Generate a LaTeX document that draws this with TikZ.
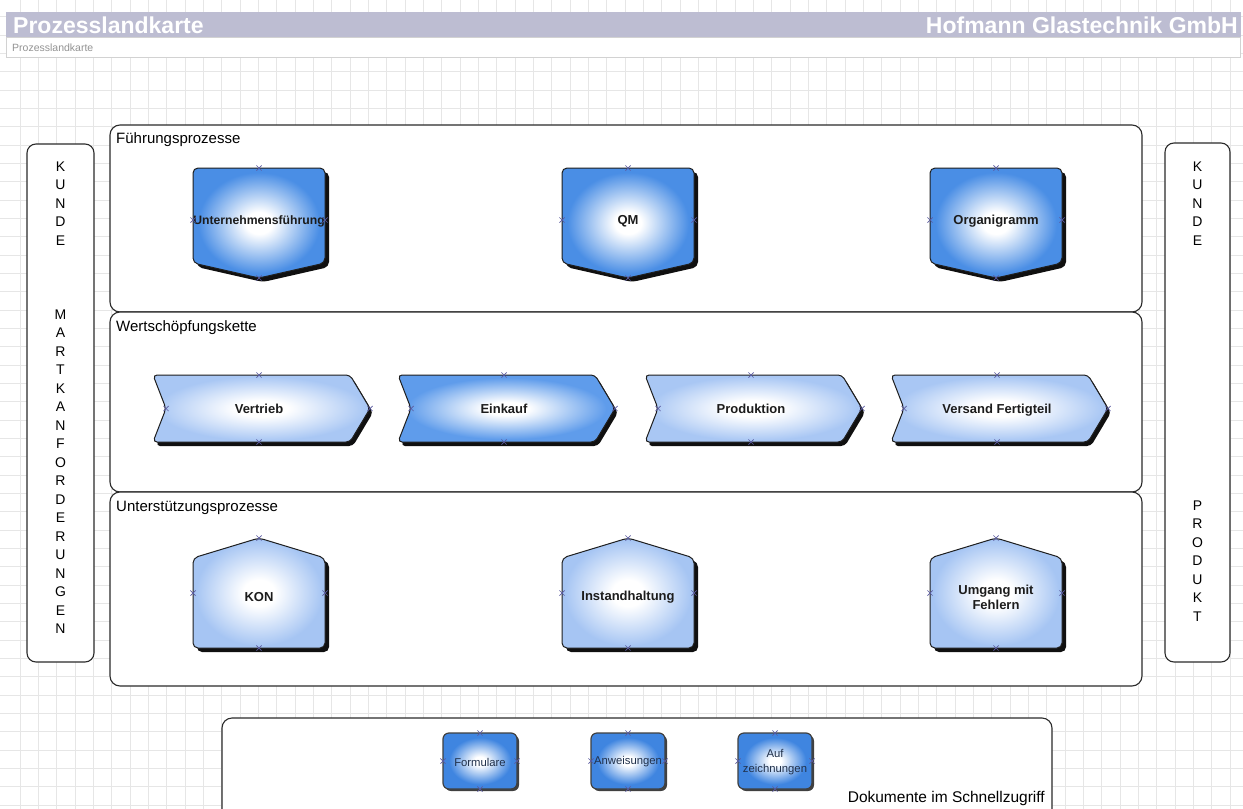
\documentclass[tikz,border=0pt]{standalone}
\usepackage{fontspec}
\setmainfont{Liberation Sans}
\usetikzlibrary{shapes.misc}
\definecolor{lanec}{HTML}{2B2B2B}
\definecolor{outl}{HTML}{1E1E1E}
\definecolor{shadowc}{HTML}{101010}
\definecolor{topblue}{HTML}{4A8EE5}
\definecolor{chevlight}{HTML}{A9C7F4}
\definecolor{chevdark}{HTML}{5F9CEB}
\definecolor{botlight}{HTML}{A6C5F3}
\definecolor{docblue}{HTML}{3F85E0}
\definecolor{xc}{HTML}{5A5AA0}
\definecolor{bandc}{HTML}{BDBDD2}
\definecolor{gridc}{HTML}{E6E6E6}
\definecolor{txt}{HTML}{1C1C1C}
\definecolor{doctxt}{HTML}{20304A}
\pgfdeclareradialshading{topsh}{\pgfpointorigin}{color(0bp)=(white); color(5bp)=(white); color(23bp)=(topblue); color(25bp)=(topblue); color(50bp)=(topblue)}
\pgfdeclareradialshading{chevlsh}{\pgfpointorigin}{color(0bp)=(white); color(6bp)=(white); color(24bp)=(chevlight); color(25bp)=(chevlight); color(50bp)=(chevlight)}
\pgfdeclareradialshading{chevdsh}{\pgfpointorigin}{color(0bp)=(white); color(5bp)=(white); color(23bp)=(chevdark); color(25bp)=(chevdark); color(50bp)=(chevdark)}
\pgfdeclareradialshading{botsh}{\pgfpointorigin}{color(0bp)=(white); color(6bp)=(white); color(24bp)=(botlight); color(25bp)=(botlight); color(50bp)=(botlight)}
\pgfdeclareradialshading{docsh}{\pgfpointorigin}{color(0bp)=(white); color(4bp)=(white); color(21bp)=(docblue); color(25bp)=(docblue); color(50bp)=(docblue)}
\tikzset{
  lane/.style={draw=lanec, line width=1.1pt, fill=white, rounded corners=10pt},
  shadowfill/.style={fill=shadowc, rounded corners=5pt},
  shbody/.style={draw=outl, line width=1pt, rounded corners=5pt},
  lbl/.style={font=\fontsize{13}{15}\selectfont\bfseries, text=txt, align=center, inner sep=0pt},
  lblone/.style={lbl, text height=9.3pt, text depth=0pt},
  doclbl/.style={font=\fontsize{11.3}{14.5}\selectfont, text=doctxt, align=center, inner sep=0pt},
  lanelbl/.style={font=\fontsize{15}{17}\selectfont, text=black, anchor=base west, inner sep=0pt},
  vletter/.style={font=\fontsize{14}{16}\selectfont, text=black, inner sep=0pt, text height=10pt, text depth=0pt},
  xmark/.style={cross out, draw=xc, line width=0.7pt, minimum size=4.5pt, inner sep=0pt},
  gridline/.style={draw=gridc, line width=0.5pt}
}
\newcommand\TopShape[3]{%
  \begin{scope}[shift={(#2,168)}]
    \fill[shadowfill] (4,54) -- (4,4) -- (136,4) -- (136,99) -- (70,114) -- (4,99) -- cycle;
    \path[shbody, shading=topsh] (0,50) -- (0,0) -- (132,0) -- (132,95) -- (66,110) -- (0,95) -- cycle;
    \node[lblone] (#1) at (66,52) {#3};
    \foreach \p in {(66,0),(0,52),(132,52),(66,110)} \node[xmark] at \p {};
  \end{scope}}
\newcommand\ChevShape[4]{%
  \begin{scope}[shift={(#2,375)}]
    \fill[shadowfill, rounded corners=4pt] (104,4) -- (200,4) -- (220,37.5) -- (200,71) -- (3,71) -- (16,37.5) -- (3,4) -- cycle;
    \path[shbody, rounded corners=4pt, shading=#3] (104,0) -- (197,0) -- (217,33.5) -- (197,67) -- (0,67) -- (13,33.5) -- (0,0) -- cycle;
    \node[lblone] (#1) at (106,33.5) {#4};
    \foreach \p in {(106,0),(106,67),(13,33.5),(217,33.5)} \node[xmark] at \p {};
  \end{scope}}
\newcommand\HouseShape[3]{%
  \begin{scope}[shift={(#2,538)}]
    \fill[shadowfill] (4,64) -- (4,24) -- (70,4) -- (136,24) -- (136,114) -- (4,114) -- cycle;
    \path[shbody, shading=botsh] (0,60) -- (0,20) -- (66,0) -- (132,20) -- (132,110) -- (0,110) -- cycle;
    \node[lbl] (#1) at (66,59) {#3};
    \foreach \p in {(66,0),(0,55),(132,55),(66,110)} \node[xmark] at \p {};
  \end{scope}}
\newcommand\DocShape[3]{%
  \begin{scope}[shift={(#2,733)}]
    \fill[shadowc!80, rounded corners=6pt] (2,2) rectangle (76,58);
    \path[draw=outl!85, line width=1.2pt, rounded corners=6pt, shading=docsh] (0,0) rectangle (74,56);
    \node[doclbl] (#1) at (37,29) {#3};
    \foreach \p in {(37,0),(37,56),(0,28),(74,28)} \node[xmark] at \p {};
  \end{scope}}
\begin{document}
\begin{tikzpicture}[x=1pt,y=-1pt]
  \useasboundingbox (0,0) rectangle (1243,809);
  \clip (0,0) rectangle (1243,809);
  \fill[white] (0,0) rectangle (1243,809);
  % grid
  \foreach \k in {0,...,66} \draw[gridline] ({20+18.33*\k},0) -- ({20+18.33*\k},809);
  \foreach \k in {-4,...,41} \draw[gridline] (0,{71.7+18.33*\k}) -- (1243,{71.7+18.33*\k});
  % header
  \fill[bandc] (6,12) rectangle (1241,37);
  \draw[gray!35, fill=white, line width=0.6pt] (6,37) rectangle (1240,57);
  \node[anchor=base west, inner sep=0pt, font=\fontsize{23}{26}\selectfont\bfseries, text=white] (title) at (13,33) {Prozesslandkarte};
  \node[anchor=base east, inner sep=0pt, font=\fontsize{23}{26}\selectfont\bfseries, text=white] (company) at (1238,33) {Hofmann Glastechnik GmbH};
  \node[anchor=base west, inner sep=0pt, font=\fontsize{10.5}{12}\selectfont, text=gray!85] (subtitle) at (12,51) {Prozesslandkarte};
  % lanes
  \path[lane] (110,125) rectangle (1142,312);
  \path[lane] (110,312) rectangle (1142,492);
  \path[lane] (110,492) rectangle (1142,686);
  \node[lanelbl] (lf) at (116,143) {Führungsprozesse};
  \node[lanelbl] (lw) at (116,331) {Wertschöpfungskette};
  \node[lanelbl] (lu) at (116,511) {Unterstützungsprozesse};
  % side boxes
  \path[lane, rounded corners=9pt] (27,144) rectangle (94,662);
  \path[lane, rounded corners=9pt] (1165,143) rectangle (1230,662);
  \foreach \ch [count=\i from 0] in {K,U,N,D,E}
    \node[vletter] (kl\i) at (60.5,{166+18.5*\i}) {\ch};
  \foreach \ch [count=\i from 0] in {M,A,R,T,K,A,N,F,O,R,D,E,R,U,N,G,E,N}
    \node[vletter] (ml\i) at (60.5,{314+18.5*\i}) {\ch};
  \foreach \ch [count=\i from 0] in {K,U,N,D,E}
    \node[vletter] (kr\i) at (1197.5,{166+18.5*\i}) {\ch};
  \foreach \ch [count=\i from 0] in {P,R,O,D,U,K,T}
    \node[vletter] (pr\i) at (1197.5,{505+18.5*\i}) {\ch};
  % Fuehrungsprozesse
  \TopShape{uf}{193}{\fontsize{12.2}{14}\selectfont Unternehmensführung}
  \TopShape{qm}{562}{QM}
  \TopShape{org}{930}{Organigramm}
  % Wertschoepfungskette
  \ChevShape{vt}{153}{chevlsh}{Vertrieb}
  \ChevShape{ek}{398}{chevdsh}{Einkauf}
  \ChevShape{pd}{645}{chevlsh}{Produktion}
  \ChevShape{vf}{891}{chevlsh}{Versand Fertigteil}
  % Unterstuetzungsprozesse
  \HouseShape{kon}{193}{KON}
  \HouseShape{ih}{562}{Instandhaltung}
  \HouseShape{uf2}{930}{Umgang mit\\Fehlern}
  % Dokumente
  \path[lane] (222,718) rectangle (1052,820);
  \DocShape{fo}{443}{Formulare}
  \DocShape{an}{591}{Anweisungen}
  \DocShape{az}{738}{Auf\\zeichnungen}
  \node[anchor=base east, inner sep=0pt, font=\fontsize{15.5}{17}\selectfont, text=black] (dok) at (1045,802) {Dokumente im Schnellzugriff};
\end{tikzpicture}
\end{document}
